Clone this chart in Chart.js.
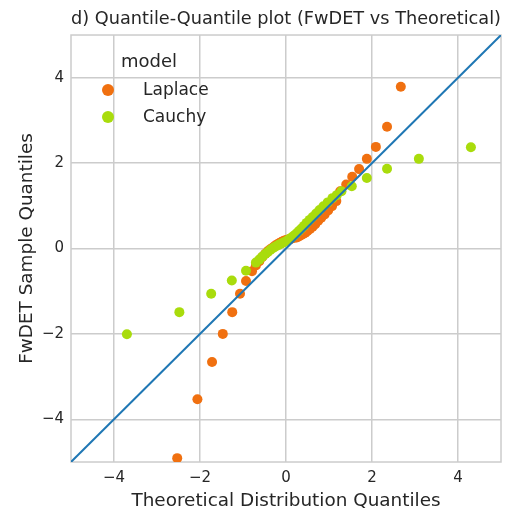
<!DOCTYPE html>
<html>
<head>
<meta charset="utf-8">
<script src="https://cdn.jsdelivr.net/npm/chart.js@4/dist/chart.umd.min.js"></script>
<style>
  html, body { margin: 0; padding: 0; background: #ffffff; }
  #wrap { position: relative; width: 514px; height: 514px; }
  #legend { position: absolute; left: 0; top: 0; font-family: "DejaVu Sans", sans-serif; font-size: 17px; color: #262626; }
  #legend .row { position: absolute; white-space: nowrap; line-height: 20px; }
  #legend .dot { position: absolute; width: 12px; height: 12px; border-radius: 50%; }
</style>
</head>
<body>
<div id="wrap">
  <canvas id="c" width="514" height="514"></canvas>
  <div id="legend"></div>
</div>
<script>
// ---- data ----
const seriesNames = ["Laplace", "Cauchy"];
const legendTitle = "model";

const laplaceX = [-2.53, -2.06, -1.72, -1.47, -1.25, -1.07, -0.93, -0.79,
  -0.70, -0.62, -0.55, -0.48, -0.42, -0.36, -0.30, -0.25, -0.20, -0.15, -0.10, -0.05,
  0.00, 0.05, 0.10, 0.15, 0.20, 0.25, 0.30, 0.35, 0.40, 0.45, 0.50, 0.56, 0.62, 0.68,
  0.75, 0.82, 0.90, 0.98, 1.07, 1.17, 1.26, 1.40, 1.54, 1.70, 1.88, 2.09, 2.35, 2.67];
const laplaceY = [-4.91, -3.53, -2.66, -2.00, -1.49, -1.06, -0.76, -0.53,
  -0.40, -0.30, -0.20, -0.12, -0.06, -0.01, 0.03, 0.07, 0.10, 0.13, 0.16, 0.18,
  0.20, 0.21, 0.22, 0.24, 0.25, 0.26, 0.28, 0.31, 0.34, 0.37, 0.41, 0.46, 0.51, 0.57,
  0.65, 0.72, 0.80, 0.89, 0.99, 1.11, 1.34, 1.50, 1.68, 1.86, 2.10, 2.38, 2.85, 3.79];

const cauchyX = [-3.70, -2.48, -1.74, -1.26, -0.93,
  -0.70, -0.62, -0.55, -0.48, -0.42, -0.36, -0.30, -0.24, -0.18, -0.12, -0.06,
  0.00, 0.06, 0.12, 0.18, 0.24, 0.30, 0.36, 0.42, 0.48, 0.55, 0.62, 0.70, 0.78,
  0.87, 0.97, 1.08, 1.18, 1.29, 1.53, 1.88, 2.35, 3.09, 4.30];
const cauchyY = [-2.01, -1.49, -1.06, -0.75, -0.52,
  -0.33, -0.26, -0.19, -0.13, -0.08, -0.03, 0.01, 0.05, 0.08, 0.11, 0.14,
  0.17, 0.21, 0.25, 0.30, 0.35, 0.41, 0.47, 0.53, 0.60, 0.67, 0.74, 0.82, 0.90,
  0.99, 1.08, 1.18, 1.25, 1.34, 1.46, 1.65, 1.87, 2.10, 2.37];

const refLineX = [-5, 5];
const refLineY = [-5, 5];

const axisMin = -5, axisMax = 5;
const xTicks = [-4, -2, 0, 2, 4];
const yTicks = [-4, -2, 0, 2, 4];

const titleText = "d) Quantile-Quantile plot (FwDET vs Theoretical)";
const xLabel = "Theoretical Distribution Quantiles";
const yLabel = "FwDET Sample Quantiles";

// ---- styles ----
const colors = { Laplace: "#f07010", Cauchy: "#a9dc0c", ref: "#1f77b4" };
const textColor = "#262626";
const gridColor = "#cccccc";
const fontFamily = '"DejaVu Sans", sans-serif';

const toPts = (xs, ys) => xs.map((x, i) => ({ x: x, y: ys[i] }));
const fmt = v => (v < 0 ? "\u2212" + Math.abs(v) : String(v));

const frame = {
  id: "frame",
  beforeDatasetsDraw(chart) {
    const a = chart.chartArea, ctx = chart.ctx;
    ctx.save();
    ctx.strokeStyle = gridColor;
    ctx.lineWidth = 1.5;
    ctx.strokeRect(a.left, a.top, a.right - a.left, a.bottom - a.top);
    ctx.restore();
  }
};

const chart = new Chart(document.getElementById("c"), {
  type: "scatter",
  data: {
    datasets: [
      { label: "y = x", data: toPts(refLineX, refLineY), showLine: true, borderColor: colors.ref,
        borderWidth: 2, pointRadius: 0, order: 0, clip: 0 },
      { label: seriesNames[1], data: toPts(cauchyX, cauchyY), backgroundColor: colors.Cauchy,
        borderWidth: 0, pointRadius: 5, order: 1, clip: 0 },
      { label: seriesNames[0], data: toPts(laplaceX, laplaceY), backgroundColor: colors.Laplace,
        borderWidth: 0, pointRadius: 5, order: 2, clip: 0 }
    ]
  },
  options: {
    responsive: false,
    animation: false,
    layout: { padding: { left: 0, right: 13, top: 0, bottom: 0 } },
    plugins: {
      legend: { display: false },
      tooltip: { enabled: false },
      title: { display: true, fullSize: false, text: titleText, color: textColor,
        font: { family: fontFamily, size: 18.1, weight: "normal", lineHeight: 1.2 }, padding: { top: 8, bottom: 5.3 } }
    },
    scales: {
      x: {
        type: "linear", min: axisMin, max: axisMax,
        afterBuildTicks: s => { s.ticks = xTicks.map(v => ({ value: v })); },
        afterFit: s => { s.height = 52; },
        ticks: { callback: v => fmt(v), color: textColor, font: { family: fontFamily, size: 15 }, padding: 7 },
        grid: { color: gridColor, lineWidth: 1.5, drawTicks: false },
        border: { display: false },
        title: { display: true, text: xLabel, color: textColor, font: { family: fontFamily, size: 18.4 }, padding: { top: 2, bottom: 2 } }
      },
      y: {
        type: "linear", min: axisMin, max: axisMax,
        afterBuildTicks: s => { s.ticks = yTicks.map(v => ({ value: v })); },
        afterFit: s => { s.width = 71; },
        ticks: { callback: v => fmt(v), color: textColor, font: { family: fontFamily, size: 15 }, padding: 7 },
        grid: { color: gridColor, lineWidth: 1.5, drawTicks: false },
        border: { display: false },
        title: { display: true, text: yLabel, color: textColor, font: { family: fontFamily, size: 18.4 }, padding: { top: 16, bottom: 4 } }
      }
    }
  },
  plugins: [frame]
});

// ---- legend (inside plot, top-left) ----
const legend = document.getElementById("legend");
const t = document.createElement("div");
t.className = "row"; t.style.left = "121px"; t.style.top = "51px"; t.style.fontSize = "18px";
t.textContent = legendTitle;
legend.appendChild(t);
seriesNames.forEach((name, i) => {
  const cy = 90 + i * 27;
  const d = document.createElement("div");
  d.className = "dot"; d.style.left = (108 - 6) + "px"; d.style.top = (cy - 6) + "px";
  d.style.background = colors[name];
  legend.appendChild(d);
  const r = document.createElement("div");
  r.className = "row"; r.style.left = "143px"; r.style.top = (cy - 11) + "px";
  r.textContent = name;
  legend.appendChild(r);
});
</script>
</body>
</html>
